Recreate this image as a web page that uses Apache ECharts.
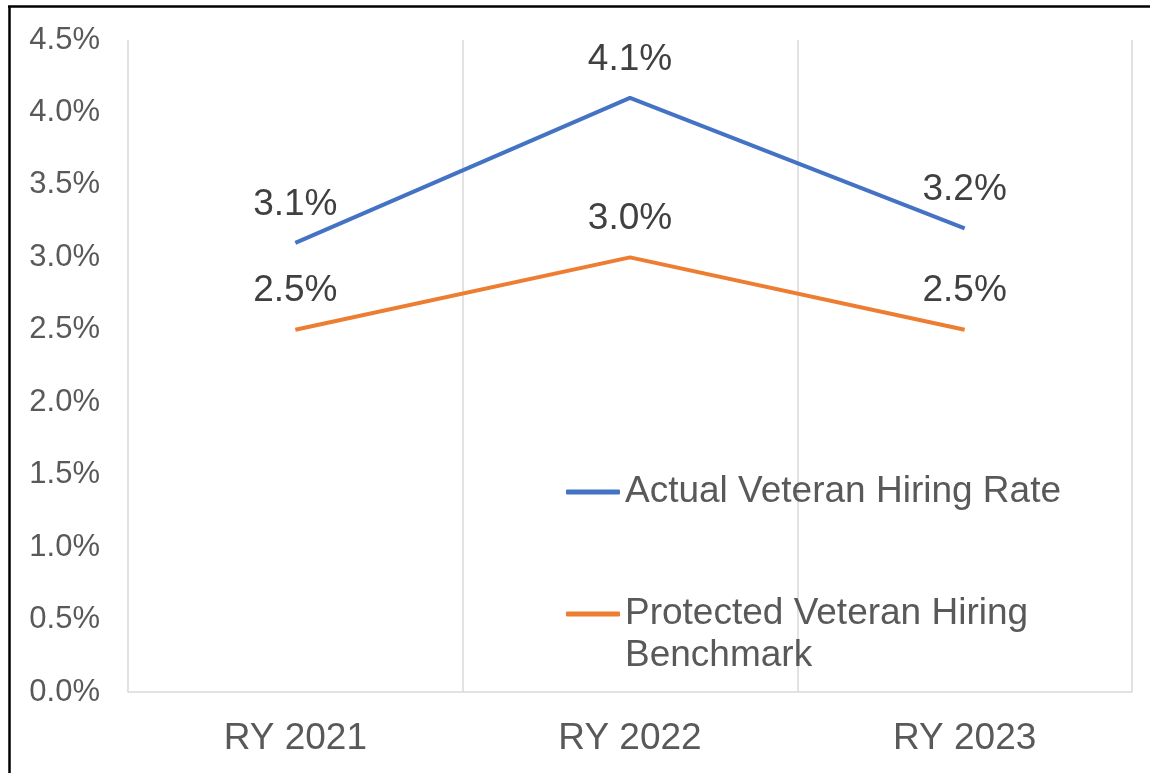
<!DOCTYPE html>
<html><head><meta charset="utf-8">
<script src="https://cdn.jsdelivr.net/npm/echarts@6/dist/echarts.min.js"></script>
<style>html,body{margin:0;padding:0;background:#fff}#c{width:1150px;height:773px}</style>
</head><body><div id="c"></div>
<script>
const categories = ['RY 2021', 'RY 2022', 'RY 2023'];
const actualRate = [3.1, 4.1, 3.2];
const benchmark = [2.5, 3.0, 2.5];
const seriesNames = ['Actual Veteran Hiring Rate', 'Protected Veteran Hiring Benchmark'];

const FONT = '"Liberation Sans", Arial, sans-serif';
const chart = echarts.init(document.getElementById('c'), null, {renderer: 'canvas'});
const labelCfg = {show: true, position: 'top', distance: 20, color: '#404040', fontSize: 37, fontFamily: FONT, formatter: p => p.value.toFixed(1) + '%'};
const legendText = {fontSize: 37, fontFamily: FONT, color: '#595959', lineHeight: 42};
chart.setOption({
  animation: false,
  backgroundColor: '#fff',
  grid: {left: 128, right: 18, top: 40, bottom: 81},
  legend: [
    {data: [{name: seriesNames[0], icon: 'roundRect'}], left: 566, top: 471, padding: 0, itemWidth: 54, itemHeight: 5, itemGap: 0,
     textStyle: legendText},
    {data: [{name: seriesNames[1], icon: 'roundRect'}], left: 566, top: 551, padding: 0, itemWidth: 54, itemHeight: 5, itemGap: 0,
     formatter: () => ' \nProtected Veteran Hiring\nBenchmark',
     textStyle: legendText}
  ],
  xAxis: {
    type: 'category', data: categories, boundaryGap: true,
    axisLine: {show: true, lineStyle: {color: '#d9d9d9', width: 1.5}},
    axisTick: {show: false},
    splitLine: {show: true, lineStyle: {color: '#d9d9d9', width: 1.5}},
    axisLabel: {fontSize: 37, fontFamily: FONT, color: '#595959', margin: 28}
  },
  yAxis: {
    type: 'value', min: 0, max: 4.5, interval: 0.5,
    axisLine: {show: false}, axisTick: {show: false}, splitLine: {show: false},
    axisLabel: {fontSize: 31, fontFamily: FONT, color: '#595959', margin: 28, formatter: v => v.toFixed(1) + '%'}
  },
  series: [
    {name: seriesNames[0], type: 'line', data: actualRate, symbol: 'circle', symbolSize: 0, showSymbol: true,
     lineStyle: {color: '#4472C4', width: 4}, itemStyle: {color: '#4472C4'}, label: labelCfg},
    {name: seriesNames[1], type: 'line', data: benchmark, symbol: 'circle', symbolSize: 0, showSymbol: true,
     lineStyle: {color: '#ED7D31', width: 4}, itemStyle: {color: '#ED7D31'}, label: labelCfg}
  ],
  graphic: [
    {type: 'line', shape: {x1: 9.5, y1: 6, x2: 9.5, y2: 773}, style: {stroke: '#000', lineWidth: 2.5}},
    {type: 'line', shape: {x1: 8, y1: 6.5, x2: 1150, y2: 6.5}, style: {stroke: '#000', lineWidth: 2.5}}
  ]
});
</script></body></html>
